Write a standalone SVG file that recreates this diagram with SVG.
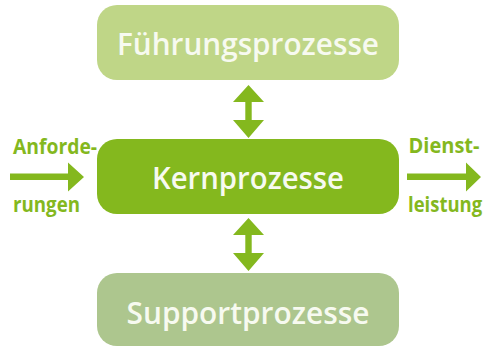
<svg xmlns="http://www.w3.org/2000/svg" width="488" height="347" viewBox="0 0 488 347">
<style>
.box-text{font-family:"Open Sans","Liberation Sans",sans-serif;font-weight:600;font-size:31px;fill:#f7faf0;text-anchor:middle}
.lbl{font-family:"Open Sans","Liberation Sans",sans-serif;font-weight:700;font-size:21.5px;fill:#84b81e}
.arrow{fill:#84b81e}
</style>
<rect width="488" height="347" fill="#ffffff"/>
<g id="fuehrung">
<rect x="97" y="5" width="302" height="75" rx="20" fill="#bfd687"/>
<text class="box-text" x="248" y="55" textLength="262" lengthAdjust="spacingAndGlyphs">Führungsprozesse</text>
</g>
<g id="kern">
<rect x="97" y="139" width="302" height="75" rx="20" fill="#84b81e"/>
<text class="box-text" x="248" y="189" textLength="192" lengthAdjust="spacingAndGlyphs">Kernprozesse</text>
</g>
<g id="support">
<rect x="97" y="273" width="302" height="73" rx="20" fill="#adc68e"/>
<text class="box-text" x="248" y="323.5" textLength="243" lengthAdjust="spacingAndGlyphs">Supportprozesse</text>
</g>
<g id="anforderungen">
<text class="lbl" x="13" y="153.5" textLength="84" lengthAdjust="spacingAndGlyphs">Anforde-</text>
<text class="lbl" x="13" y="211.5" textLength="67" lengthAdjust="spacingAndGlyphs">rungen</text>
</g>
<g id="dienstleistung">
<text class="lbl" x="408.5" y="153" textLength="71" lengthAdjust="spacingAndGlyphs">Dienst-</text>
<text class="lbl" x="0" y="0" transform="translate(408,211.5) scale(0.86,1)">leistung</text>
</g>
<g id="connectors">
<polygon class="arrow" points="248.5,85 264,102 251.7,102 251.7,120 264,120 248.5,138 233,120 245.3,120 245.3,102 233,102"/>
<polygon class="arrow" points="248.5,218 264,235 251.7,235 251.7,253 264,253 248.5,271 233,253 245.3,253 245.3,235 233,235"/>
<polygon class="arrow" points="10,173.5 68,173.5 68,162.5 84,177 68,191.5 68,180 10,180"/>
<polygon class="arrow" points="407,173.5 466,173.5 466,162.5 481,177 466,191.5 466,180 407,180"/>
</g>
</svg>
